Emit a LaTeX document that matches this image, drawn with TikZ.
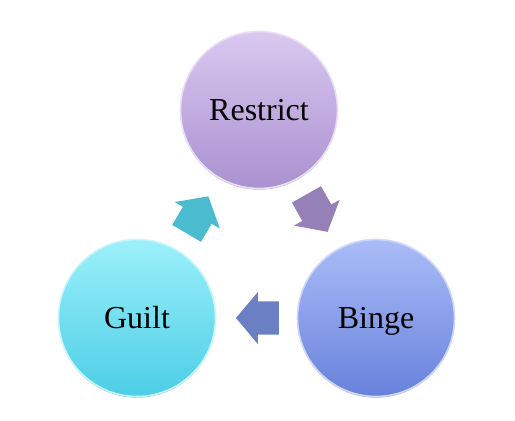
\documentclass[tikz,border=0pt]{standalone}
\usepackage{fontspec}
\setmainfont{Liberation Serif}
\usetikzlibrary{positioning,calc,shapes.arrows,shadows}

\definecolor{restrictTop}{RGB}{218,200,240}
\definecolor{restrictBot}{RGB}{170,145,208}
\definecolor{bingeTop}{RGB}{170,188,246}
\definecolor{bingeBot}{RGB}{104,130,220}
\definecolor{guiltTop}{RGB}{156,240,250}
\definecolor{guiltBot}{RGB}{76,206,230}
\definecolor{arrPurple}{RGB}{150,128,184}
\definecolor{arrBlue}{RGB}{106,127,196}
\definecolor{arrTeal}{RGB}{75,188,208}

\begin{document}
\begin{tikzpicture}[x=1pt, y=-1pt,
  stage/.style = {circle, minimum size=157pt, inner sep=0pt,
    text height=21pt, text depth=0pt,
    font=\fontsize{32}{38}\selectfont, line width=1.6pt,
    drop shadow={shadow xshift=0pt, shadow yshift=-1.2pt,
      opacity=0.3, fill=black}},
  restrictc/.style = {top color=restrictTop, bottom color=restrictBot,
    draw=restrictTop!60!white},
  bingec/.style = {top color=bingeTop, bottom color=bingeBot,
    draw=bingeTop!60!white},
  guiltc/.style = {top color=guiltTop, bottom color=guiltBot,
    draw=guiltTop!60!white},
  flow/.style = {single arrow, inner xsep=0pt, inner ysep=16.5pt,
    text height=0pt, text depth=0pt, minimum height=43pt,
    single arrow head extend=9.5pt, single arrow tip angle=100}
  ]
  \useasboundingbox (0,0) rectangle (515,421);

  \node (restrict) [stage, restrictc] at (259,110) {Restrict};
  \node (binge) [stage, bingec] at (376,318) {Binge};
  \node (guilt) [stage, guiltc] at (137,318) {Guilt};

  % block arrows between the stages
  \node (r2b) [flow, fill=arrPurple, rotate=-60.6]
    at ($(restrict)!0.5!(binge)!8pt!(restrict)$) {};
  \node (b2g) [flow, fill=arrBlue, rotate=180]
    at ($(binge)!0.5!(guilt)!8pt!(binge)$) {};
  \node (g2r) [flow, fill=arrTeal, rotate=59.6]
    at ($(guilt)!0.5!(restrict)!8pt!(guilt)$) {};
\end{tikzpicture}
\end{document}
